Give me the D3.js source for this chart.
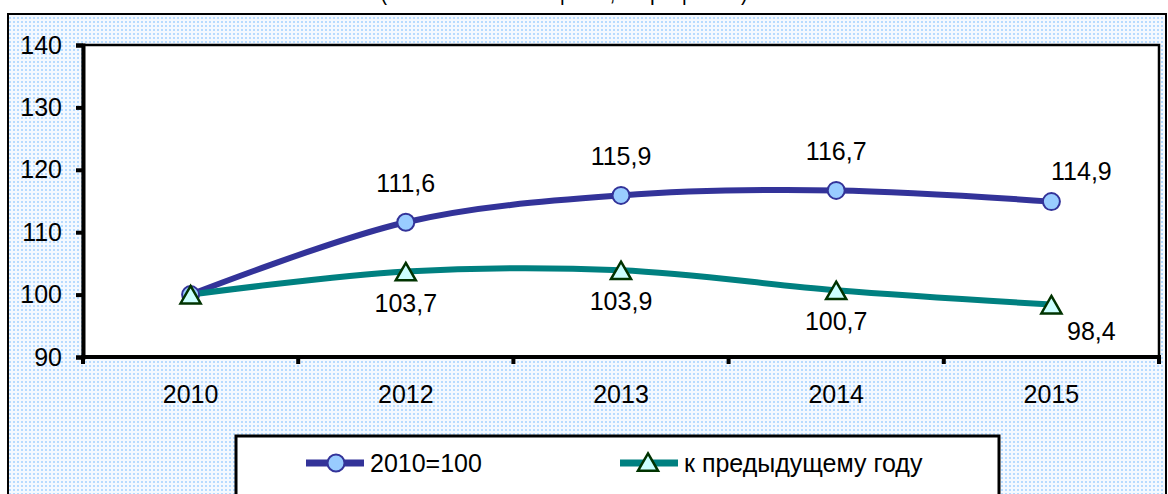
<!DOCTYPE html>
<html>
<head>
<meta charset="utf-8">
<script src="https://cdn.jsdelivr.net/npm/d3@7"></script>
<style>
  body { margin: 0; background: #fff; }
  svg { display: block; font-family: Arial, "Liberation Sans", sans-serif; }
</style>
</head>
<body>
<svg id="chart" width="1168" height="494"></svg>
<script>
// chart data
let years = ["2010", "2012", "2013", "2014", "2015"]
let base2010 = [100, 111.6, 115.9, 116.7, 114.9]
let prevYear = [100, 103.7, 103.9, 100.7, 98.4]
let yTicks = [90, 100, 110, 120, 130, 140]
let seriesNames = ["2010=100", "к предыдущему году"]
let titleText = "(в сопоставимых ценах, в процентах)"

let width = 1168, height = 494
let plotLeft = 83, plotRight = 1159, plotTop = 45, plotBottom = 357
let fontFam = "Arial, 'Liberation Sans', sans-serif"

let svg = d3.select("#chart")

// dotted background like the excel fill
let defs = svg.append("defs")
let pat = defs.append("pattern")
    .attr("id", "dots")
    .attr("width", 4).attr("height", 4)
    .attr("patternUnits", "userSpaceOnUse")
pat.append("rect").attr("width", 4).attr("height", 4).attr("fill", "#f4f9ff")
pat.append("rect").attr("x", 1).attr("y", 1).attr("width", 2).attr("height", 2).attr("fill", "#c2e0ff")
pat.append("rect").attr("x", 1.5).attr("y", 1.5).attr("width", 1).attr("height", 1).attr("fill", "#99ccff")

// title, only its lower edge is inside the picture
svg.append("text")
    .attr("x", 380).attr("y", 0)
    .attr("font-size", 25)
    .attr("textLength", 368)
    .attr("lengthAdjust", "spacingAndGlyphs")
    .attr("fill", "#000")
    .text(titleText)

// chart area
svg.append("rect")
    .attr("x", 8).attr("y", 14)
    .attr("width", 1158).attr("height", 500)
    .attr("fill", "url(#dots)")
    .attr("stroke", "#000").attr("stroke-width", 2)

// plot area
svg.append("rect")
    .attr("x", plotLeft).attr("y", plotTop)
    .attr("width", plotRight - plotLeft).attr("height", plotBottom - plotTop)
    .attr("fill", "#fff")
    .attr("stroke", "#000").attr("stroke-width", 2.5)

let xScale = d3.scaleBand()
    .domain(years)
    .range([plotLeft, plotRight])

let yScale = d3.scaleLinear()
    .domain([90, 140])
    .range([plotBottom, plotTop])

let cx = d => xScale(d) + xScale.bandwidth() / 2

// y axis
let yAxis = d3.axisLeft(yScale).tickValues(yTicks).tickSize(7).tickPadding(14)
let yG = svg.append("g")
    .attr("transform", "translate(" + plotLeft + ",0)")
    .call(yAxis)
yG.select(".domain").attr("stroke-width", 4)
yG.selectAll(".tick line").attr("stroke-width", 4)
yG.selectAll("text").attr("font-size", 25).attr("font-family", fontFam).attr("fill", "#000")

// x axis: ticks on category boundaries
let xG = svg.append("g")
    .attr("transform", "translate(0," + plotBottom + ")")
xG.append("line")
    .attr("x1", plotLeft - 2).attr("x2", plotRight + 2)
    .attr("stroke", "#000").attr("stroke-width", 4)
let bounds = years.map(d => xScale(d)).concat([plotRight])
xG.selectAll(".bt").data(bounds).enter()
    .append("line")
    .attr("x1", d => d).attr("x2", d => d)
    .attr("y1", 0).attr("y2", 7)
    .attr("stroke", "#000").attr("stroke-width", 4)
xG.selectAll(".xl").data(years).enter()
    .append("text")
    .attr("x", d => cx(d))
    .attr("y", 46)
    .attr("text-anchor", "middle")
    .attr("font-size", 25)
    .text(d => d)

let line = d3.line()
    .x((d, i) => cx(years[i]))
    .y(d => yScale(d))
    .curve(d3.curveCardinal.tension(0))

let triangle = d3.symbol().type(d3.symbolTriangle).size(175)

// series 1
svg.append("path")
    .datum(base2010)
    .attr("d", line)
    .attr("fill", "none")
    .attr("stroke", "#333399")
    .attr("stroke-width", 6)

// series 2
svg.append("path")
    .datum(prevYear)
    .attr("d", line)
    .attr("fill", "none")
    .attr("stroke", "#008080")
    .attr("stroke-width", 6)

svg.selectAll(".c1").data(base2010).enter()
    .append("circle")
    .attr("cx", (d, i) => cx(years[i]))
    .attr("cy", d => yScale(d))
    .attr("r", 8.5)
    .attr("fill", "#99ccff")
    .attr("stroke", "#333399")
    .attr("stroke-width", 2)

svg.selectAll(".t2").data(prevYear).enter()
    .append("path")
    .attr("d", triangle)
    .attr("transform", (d, i) => "translate(" + cx(years[i]) + "," + (yScale(d) + 3) + ")")
    .attr("fill", "#ccffff")
    .attr("stroke", "#003300")
    .attr("stroke-width", 2.5)

let fmt = v => v.toFixed(1).replace(".", ",")

// value labels (2010 point has none); last labels sit off to the right
let last = years.length - 2
svg.selectAll(".l1").data(base2010.slice(1)).enter()
    .append("text")
    .attr("x", (d, i) => cx(years[i + 1]) + (i == last ? 30 : 0))
    .attr("y", (d, i) => yScale(d) + (i == last ? -22 : -30))
    .attr("text-anchor", "middle")
    .attr("font-size", 25)
    .text(d => fmt(d))

svg.selectAll(".l2").data(prevYear.slice(1)).enter()
    .append("text")
    .attr("x", (d, i) => cx(years[i + 1]) + (i == last ? 40 : 0))
    .attr("y", (d, i) => yScale(d) + (i == last ? 35 : 40))
    .attr("text-anchor", "middle")
    .attr("font-size", 25)
    .text(d => fmt(d))

// legend
let lg = svg.append("g")
lg.append("rect")
    .attr("x", 236).attr("y", 436)
    .attr("width", 763).attr("height", 80)
    .attr("fill", "#fff")
    .attr("stroke", "#000").attr("stroke-width", 3)

let legendX = [306, 620]
let colors = ["#333399", "#008080"]
seriesNames.forEach((name, i) => {
    let x0 = legendX[i]
    lg.append("line")
        .attr("x1", x0).attr("x2", x0 + 58)
        .attr("y1", 463).attr("y2", 463)
        .attr("stroke", colors[i]).attr("stroke-width", 7)
    if (i == 0) {
        lg.append("circle")
            .attr("cx", x0 + 30).attr("cy", 463).attr("r", 8.5)
            .attr("fill", "#99ccff").attr("stroke", "#333399").attr("stroke-width", 2)
    } else {
        lg.append("path")
            .attr("d", triangle)
            .attr("transform", "translate(" + (x0 + 28) + ",465)")
            .attr("fill", "#ccffff").attr("stroke", "#003300").attr("stroke-width", 2.5)
    }
    lg.append("text")
        .attr("x", x0 + 64).attr("y", 472)
        .attr("font-size", 25)
        .text(name)
})
</script>
</body>
</html>
